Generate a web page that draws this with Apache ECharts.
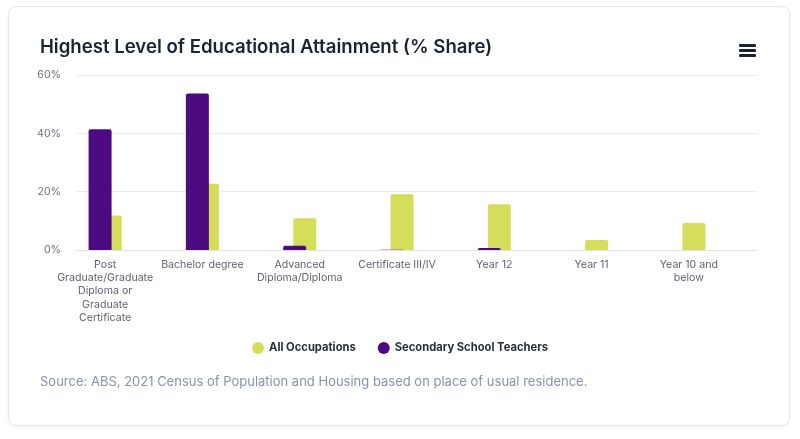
<!DOCTYPE html>
<html>
<head>
<meta charset="utf-8">
<script src="https://cdn.jsdelivr.net/npm/echarts@6/dist/echarts.min.js"></script>
<style>
  html, body { margin: 0; padding: 0; background: #fff; }
  #card {
    position: absolute; left: 8px; top: 6px; width: 780px; height: 418px;
    border: 1px solid #e6e9ef; border-radius: 8px; background: #fff;
    box-shadow: 0 1px 3px rgba(20, 30, 60, 0.06);
  }
  #chart { position: absolute; left: 0; top: 0; width: 800px; height: 439px; }
</style>
</head>
<body>
<div id="card"></div>
<div id="chart"></div>
<script>
// categorias y valores (% share)
const categories = ['Post Graduate/Graduate Diploma or Graduate Certificate', 'Bachelor degree',
  'Advanced Diploma/Diploma', 'Certificate III/IV', 'Year 12', 'Year 11', 'Year 10 and below'];
const tickLabels = ['Post\nGraduate/Graduate\nDiploma or\nGraduate\nCertificate', 'Bachelor degree',
  'Advanced\nDiploma/Diploma', 'Certificate III/IV', 'Year 12', 'Year 11', 'Year 10 and\nbelow'];
const teachers = [41.4, 53.7, 1.5, 0.1, 0.7, 0, 0];
const allOccupations = [11.8, 22.7, 10.9, 19.1, 15.7, 3.4, 9.3];
const yTicks = [0, 20, 40, 60];

const font = 'Inter, "Noto Sans", sans-serif';

let myChart = echarts.init(document.getElementById('chart'));
const option = {
  animation: false,
  textStyle: { fontFamily: font },
  title: [
    {
      text: 'Highest Level of Educational Attainment (% Share)',
      left: 35, top: 33,
      textStyle: { fontSize: 18.6, fontWeight: 600, color: '#1c2232', fontFamily: font }
    },
    {
      text: 'Source: ABS, 2021 Census of Population and Housing based on place of usual residence.',
      left: 35, top: 371,
      textStyle: { fontSize: 13, fontWeight: 'normal', color: '#8a93a6', fontFamily: font }
    }
  ],
  legend: {
    data: ['All Occupations', 'Secondary School Teachers'],
    top: 337, left: 'center',
    icon: 'circle', itemWidth: 12, itemHeight: 12, itemGap: 22,
    textStyle: { fontSize: 11.2, fontWeight: 'bold', color: '#2a2f3a', fontFamily: font }
  },
  graphic: [
    { type: 'rect', shape: { x: 739, y: 44, width: 17, height: 3, r: 1 }, style: { fill: '#1a2233' } },
    { type: 'rect', shape: { x: 739, y: 49, width: 17, height: 3, r: 1 }, style: { fill: '#1a2233' } },
    { type: 'rect', shape: { x: 739, y: 54, width: 17, height: 3, r: 1 }, style: { fill: '#1a2233' } }
  ],
  grid: [
    { left: 76, right: 43, top: 75, height: 175 },
    { left: 56.5, width: 681, top: 75, height: 175 }
  ],
  xAxis: [
    {
      gridIndex: 0, type: 'category', data: categories,
      axisLine: { lineStyle: { color: '#dde2ec' } },
      axisTick: { show: false }, axisLabel: { show: false }
    },
    {
      gridIndex: 1, type: 'category', data: categories,
      axisLine: { show: false }, axisTick: { show: false },
      axisLabel: {
        interval: 0, margin: 8, fontSize: 10.6, lineHeight: 13.3, color: '#5f6470', fontFamily: font,
        formatter: (v, i) => tickLabels[i]
      }
    }
  ],
  yAxis: [
    {
      gridIndex: 0, type: 'value', min: yTicks[0], max: yTicks[yTicks.length - 1], interval: 20,
      axisLabel: { formatter: '{value}%', fontSize: 10.6, color: '#6b7080', margin: 15, fontFamily: font },
      splitLine: { lineStyle: { color: '#e8ebf2' } },
      axisLine: { show: false }, axisTick: { show: false }
    },
    {
      gridIndex: 1, type: 'value', min: 0, max: 60, show: false,
      splitLine: { show: false }
    }
  ],
  series: [
    {
      name: 'Secondary School Teachers', type: 'bar',
      xAxisIndex: 1, yAxisIndex: 1, z: 3,
      barWidth: 23, barGap: '-56%',
      itemStyle: { color: '#4c0b80', borderRadius: [2, 2, 0, 0] },
      data: teachers
    },
    {
      name: 'All Occupations', type: 'bar',
      xAxisIndex: 1, yAxisIndex: 1, z: 2,
      barWidth: 23,
      itemStyle: { color: '#d4de5a', borderRadius: [2, 2, 0, 0] },
      data: allOccupations
    }
  ]
};
myChart.setOption(option);
</script>
</body>
</html>
